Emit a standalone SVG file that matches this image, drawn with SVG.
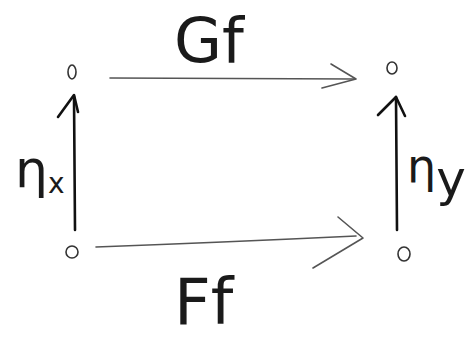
<svg xmlns="http://www.w3.org/2000/svg" width="473" height="342" viewBox="0 0 473 342">
<style>
.node{fill:none;stroke:#333;stroke-width:1.6}
.h{fill:none;stroke:#555;stroke-width:1.6;stroke-linecap:round;stroke-linejoin:round}
.v{fill:none;stroke:#111;stroke-width:2.6;stroke-linecap:round;stroke-linejoin:round}
.lbl{font-family:"DejaVu Sans",sans-serif;fill:#1a1a1a}
</style>
<rect width="473" height="342" fill="#fff"/>
<g id="node-tl"><ellipse class="node" cx="72" cy="72" rx="4" ry="7"/></g>
<g id="node-tr"><ellipse class="node" cx="392" cy="68" rx="5" ry="6"/></g>
<g id="node-bl"><ellipse class="node" cx="72" cy="252" rx="6" ry="6"/></g>
<g id="node-br"><ellipse class="node" cx="404" cy="254" rx="6" ry="7"/></g>
<g id="connectors">
<path class="h" d="M110,78 L355,79"/>
<path class="h" d="M331,64 L356,79 L322,88"/>
<path class="h" d="M96,247 Q230,242 356,236"/>
<path class="h" d="M338,217 L363,238 L313,268"/>
<path class="v" d="M75,230 L74,96"/>
<path class="v" d="M58,117 L74,95 L78,112"/>
<path class="v" d="M397,230 L396,97"/>
<path class="v" d="M378,115 L396,97 L405,116"/>
</g>
<g id="labels">
<text class="lbl" x="174" y="62" font-size="62">Gf</text>
<text class="lbl" x="174" y="324" font-size="64">Ff</text>
<text class="lbl" x="15" y="187" font-size="52">η<tspan font-size="28" dy="6">x</tspan></text>
<text class="lbl" x="407" y="182" font-size="46">η<tspan font-size="50" dy="14">y</tspan></text>
</g>
</svg>
